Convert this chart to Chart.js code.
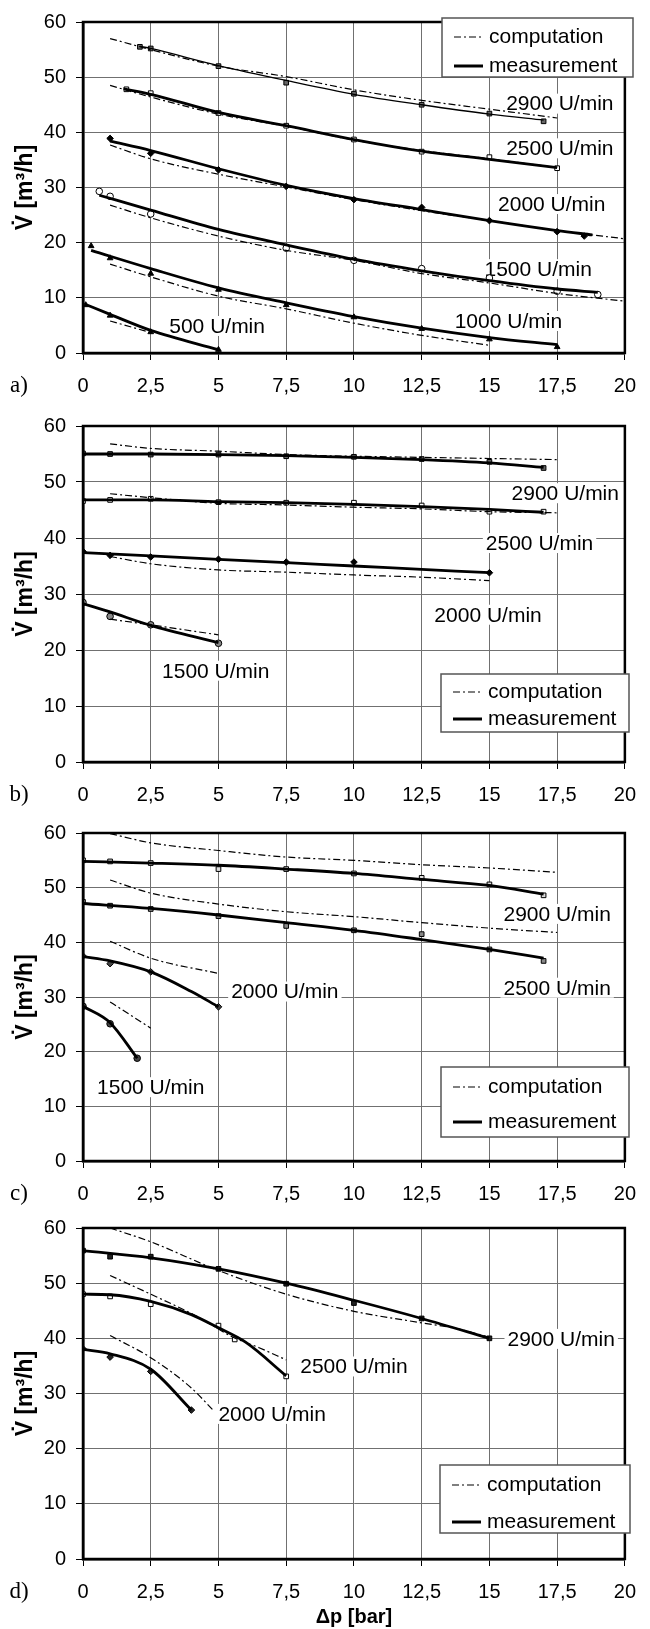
<!DOCTYPE html>
<html><head><meta charset="utf-8">
<script src="https://cdn.jsdelivr.net/npm/chart.js@4.4.1/dist/chart.umd.min.js"></script>
<style>
html,body{margin:0;padding:0;background:#fff;overflow:hidden;}
#wrap{position:relative;width:650px;height:1629px;background:#fff;}
canvas{position:absolute;left:0;}
</style></head><body><div id="wrap">
<canvas id="ca" width="650" height="401" style="top:0px"></canvas>
<canvas id="cb" width="650" height="406" style="top:404px"></canvas>
<canvas id="cc" width="650" height="398" style="top:811px"></canvas>
<canvas id="cd" width="650" height="423" style="top:1206px"></canvas>
</div>
<script>
// ---------- tick labels / texts ----------
const xTickValues = [0,2.5,5,7.5,10,12.5,15,17.5,20];
const xTickLabels = ['0','2,5','5','7,5','10','12,5','15','17,5','20'];
const yTickValues = [0,10,20,30,40,50,60];
const yTickLabels = ['0','10','20','30','40','50','60'];
const legendLabels = ['computation','measurement'];
const yTitle = 'V\u0307 [m\u00B3/h]';
const xTitle = '\u0394p [bar]';
const panelLetters = ['a)','b)','c)','d)'];
const speedsA = ['2900 U/min','2500 U/min','2000 U/min','1500 U/min','1000 U/min','500 U/min'];
const speedsB = ['2900 U/min','2500 U/min','2000 U/min','1500 U/min'];

// ---------- panel a) data [Δp, V] ----------
const aPts2900 = [[2.1,55.5],[2.5,55.2],[5,52.0],[7.5,49.0],[10,47.0],[12.5,45.0],[15,43.4],[17,42.0]];
const aFit2900 = [[2.1,55.6],[2.5,55.2],[5,52.1],[7.5,49.4],[10,46.9],[12.5,45.0],[15,43.3],[17,42.2]];
const aCalc2900 = [[1,57.0],[2.5,55.0],[5,52.0],[7.5,50.1],[10,47.7],[12.5,45.8],[15,44.2],[17.5,42.6]];
const aPts2500 = [[1.6,47.8],[2.5,47.1],[5,43.5],[7.5,41.2],[10,38.7],[12.5,36.5],[15,35.5],[17.5,33.5]];
const aFit2500 = [[1.5,47.9],[2.5,46.9],[5,43.6],[7.5,41.2],[10,38.7],[12.5,36.6],[15,35.1],[17.5,33.6]];
const aCalc2500 = [[1,48.5],[2.5,46.4],[5,43.3],[7.5,41.1],[10,38.6],[12.5,36.7],[15,35.2],[17.5,33.6]];
const aPts2000 = [[1,38.9],[2.5,36.2],[5,33.2],[7.5,30.2],[10,27.8],[12.5,26.4],[15,24.0],[17.5,22.0],[18.5,21.2]];
const aFit2000 = [[1,38.4],[2.5,36.7],[5,33.4],[7.5,30.4],[10,28.0],[12.5,26.0],[15,24.0],[17.5,22.2],[18.8,21.4]];
const aCalc2000 = [[1,37.7],[2.5,35.2],[5,32.4],[7.5,30.1],[10,27.8],[12.5,25.8],[15,24.0],[17.5,22.2],[20,20.7]];
const aPts1500 = [[0.6,29.3],[1,28.4],[2.5,25.2],[7.5,19.0],[10,16.8],[12.5,15.3],[15,13.6],[17.5,11.2],[19,10.6]];
const aFit1500 = [[0.6,28.6],[2.5,25.9],[5,22.4],[7.5,19.6],[10,17.0],[12.5,14.9],[15,13.1],[17.5,11.6],[19,11.0]];
const aCalc1500 = [[1,26.8],[2.5,24.5],[5,21.2],[7.5,18.6],[10,16.8],[12.5,14.4],[15,12.7],[17.5,10.8],[20,9.4]];
const aPts1000 = [[0.3,19.4],[1,17.2],[2.5,14.4],[5,11.5],[7.5,8.7],[10,6.5],[12.5,4.4],[15,2.5],[17.5,1.1]];
const aFit1000 = [[0.3,18.6],[2.5,15.3],[5,11.8],[7.5,9.1],[10,6.6],[12.5,4.5],[15,2.8],[17.5,1.5]];
const aCalc1000 = [[1,16.1],[2.5,13.8],[5,10.3],[7.5,8.0],[10,5.4],[12.5,3.2],[15,1.4]];
const aPts500 = [[0.1,8.7],[1,6.8],[2.5,3.8],[5,0.6]];
const aFit500 = [[0.1,8.8],[1,7.0],[2.5,4.1],[5,0.6]];
const aCalc500 = [[1,5.8],[2.5,3.7]];

// ---------- panel b) ----------
const bPts2900 = [[0,55.1],[1,55.0],[2.5,54.9],[5,54.9],[7.5,54.6],[10,54.5],[12.5,54.1],[15,53.6],[17,52.5]];
const bFit2900 = [[0,55.0],[2.5,55.0],[5,54.9],[7.5,54.7],[10,54.4],[12.5,54.0],[15,53.4],[17,52.6]];
const bCalc2900 = [[1,56.8],[2.5,56.0],[5,55.5],[7.5,54.9],[10,54.6],[12.5,54.4],[15,54.2],[17.5,54.0]];
const bPts2500 = [[0,46.6],[1,46.8],[2.5,47.0],[5,46.4],[7.5,46.3],[10,46.3],[12.5,45.8],[15,44.7],[17,44.7]];
const bFit2500 = [[0,46.8],[2.5,46.8],[5,46.5],[7.5,46.3],[10,46.0],[12.5,45.6],[15,45.1],[17,44.6]];
const bCalc2500 = [[1,47.9],[2.5,47.2],[5,46.2],[7.5,45.9],[10,45.5],[12.5,45.2],[15,44.7],[17.5,44.5]];
const bPts2000 = [[0,37.6],[1,36.9],[2.5,36.6],[5,36.2],[7.5,35.7],[10,35.7],[15,33.8]];
const bFit2000 = [[0,37.4],[2.5,36.8],[5,36.2],[7.5,35.6],[10,35.0],[12.5,34.4],[15,33.8]];
const bCalc2000 = [[1,36.7],[2.5,35.4],[5,34.3],[7.5,33.9],[10,33.4],[12.5,33.0],[15,32.4]];
const bPts1500 = [[0,28.5],[1,26.0],[2.5,24.5],[5,21.2]];
const bFit1500 = [[0,28.3],[1,26.8],[2.5,24.4],[5,21.3]];
const bCalc1500 = [[1,25.5],[2.2,24.7],[2.5,24.5],[5,22.7]];

// ---------- panel c) ----------
const cPts2900 = [[0,55.0],[1,54.8],[2.5,54.5],[5,53.4],[7.5,53.4],[10,52.6],[12.5,51.8],[15,50.6],[17,48.6]];
const cFit2900 = [[0,54.8],[2.5,54.5],[5,54.1],[7.5,53.4],[10,52.6],[12.5,51.5],[15,50.4],[17,48.8]];
const cCalc2900 = [[1,59.9],[2.5,58.2],[5,56.8],[7.5,55.6],[10,55.0],[12.5,54.2],[15,53.6],[17.5,52.8]];
const cPts2500 = [[0,47.4],[1,46.7],[2.5,46.1],[5,44.8],[7.5,43.0],[10,42.2],[12.5,41.5],[15,38.7],[17,36.6]];
const cFit2500 = [[0,47.1],[2.5,46.2],[5,45.0],[7.5,43.6],[10,42.2],[12.5,40.5],[15,38.7],[17,37.1]];
const cCalc2500 = [[1,51.4],[2.5,49.0],[5,47.0],[7.5,45.6],[10,44.7],[12.5,43.6],[15,42.6],[17.5,41.8]];
const cPts2000 = [[0,37.5],[1,36.1],[2.5,34.6],[5,28.2]];
const cFit2000 = [[0,37.4],[1,36.6],[2.5,34.6],[4,31.0],[5,28.2]];
const cCalc2000 = [[1,40.2],[2.5,37.1],[5,34.3]];
const cPts1500 = [[0,28.3],[1,25.1],[2,18.8]];
const cFit1500 = [[0,28.3],[1,25.3],[2,18.8]];
const cCalc1500 = [[1,29.1],[2.5,24.3]];

// ---------- panel d) ----------
const dPts2900 = [[0,55.9],[1,54.8],[2.5,54.8],[5,52.6],[7.5,49.9],[10,46.4],[12.5,43.6],[15,40.0]];
const dFit2900 = [[0,55.9],[2.5,54.6],[5,52.6],[7.5,50.0],[10,46.9],[12.5,43.6],[15,40.0]];
const dCalc2900 = [[1,60.0],[2.5,57.5],[5,52.3],[7.5,48.0],[10,44.9],[12.5,42.8],[13.75,41.8],[15,40.2]];
const dPts2500 = [[0,48.0],[1,47.6],[2.5,46.2],[5,42.3],[5.6,39.8],[7.5,33.1]];
const dFit2500 = [[0,48.0],[1,47.9],[2.5,46.7],[4,44.3],[5,41.9],[6,39.3],[7.5,33.2]];
const dCalc2500 = [[1,51.4],[2.5,48.0],[4.2,44.0],[5.5,40.3],[6.5,38.3],[7.5,36.1]];
const dPts2000 = [[0,38.1],[1,36.6],[2.5,34.0],[4,27.0]];
const dFit2000 = [[0,38.0],[1,37.2],[2.5,34.4],[4,27.0]];
const dCalc2000 = [[1,40.5],[2.5,36.5],[4,31.0],[4.8,27.0]];

// ---------- build ----------
const FONT = "'Liberation Sans', Arial, sans-serif";
const toXY = pts => pts.map(p => ({x:p[0], y:p[1]}));
function fitDS(pts, w){ return {data:toXY(pts), showLine:true, borderColor:'#000', borderWidth:w, pointRadius:0, cubicInterpolationMode:'monotone', fill:false}; }
function calcDS(pts){ return {data:toXY(pts), showLine:true, borderColor:'#000', borderWidth:1.2, borderDash:[7,3,2,3], pointRadius:0, cubicInterpolationMode:'monotone', fill:false}; }
function ptsDS(pts, style, fill){ return {data:toXY(pts), showLine:false, pointStyle:style, pointRadius:3.3, pointBackgroundColor:fill, pointBorderColor:'#000', pointBorderWidth:1}; }

function series(list){
  const out=[];
  list.forEach(s=>{ out.push(calcDS(s.calc)); out.push(fitDS(s.fit, s.w||2.8)); out.push(ptsDS(s.pts, s.style, s.fill)); });
  return out;
}

const panels = [
 {id:'ca', axisH:48, letter:panelLetters[0], xTitle:false,
  legend:{x:442,y:18,w:191,h:59,r1:37,r2:66},
  data:series([
   {pts:aPts2900,fit:aFit2900,calc:aCalc2900,style:'rect',fill:'#666',w:1.3},
   {pts:aPts2500,fit:aFit2500,calc:aCalc2500,style:'rect',fill:'#fff'},
   {pts:aPts2000,fit:aFit2000,calc:aCalc2000,style:'rectRot',fill:'#000'},
   {pts:aPts1500,fit:aFit1500,calc:aCalc1500,style:'circle',fill:'#fff'},
   {pts:aPts1000,fit:aFit1000,calc:aCalc1000,style:'triangle',fill:'#000'},
   {pts:aPts500,fit:aFit500,calc:aCalc500,style:'triangle',fill:'#000'}]),
  labels:[{t:speedsA[0],x:17.6,y:45.2},{t:speedsA[1],x:17.6,y:37.1},{t:speedsA[2],x:17.3,y:27.0},
          {t:speedsA[3],x:16.8,y:15.2},{t:speedsA[4],x:15.7,y:5.8},{t:speedsA[5],x:4.95,y:4.9}]},
 {id:'cb', axisH:48, letter:panelLetters[1], xTitle:false,
  legend:{x:441,y:270,w:188,h:58,r1:288,r2:315},
  data:series([
   {pts:bPts2900,fit:bFit2900,calc:bCalc2900,style:'rect',fill:'#666'},
   {pts:bPts2500,fit:bFit2500,calc:bCalc2500,style:'rect',fill:'#fff'},
   {pts:bPts2000,fit:bFit2000,calc:bCalc2000,style:'rectRot',fill:'#000'},
   {pts:bPts1500,fit:bFit1500,calc:bCalc1500,style:'circle',fill:'#888'}]),
  labels:[{t:speedsB[0],x:17.8,y:48.0},{t:speedsB[1],x:16.85,y:39.1},{t:speedsB[2],x:14.95,y:26.3},{t:speedsB[3],x:4.9,y:16.3}]},
 {id:'cc', axisH:48, letter:panelLetters[2], xTitle:false,
  legend:{x:441,y:256,w:188,h:70,r1:276,r2:311},
  data:series([
   {pts:cPts2900,fit:cFit2900,calc:cCalc2900,style:'rect',fill:'#ddd'},
   {pts:cPts2500,fit:cFit2500,calc:cCalc2500,style:'rect',fill:'#888'},
   {pts:cPts2000,fit:cFit2000,calc:cCalc2000,style:'rectRot',fill:'#444'},
   {pts:cPts1500,fit:cFit1500,calc:cCalc1500,style:'circle',fill:'#444'}]),
  labels:[{t:speedsB[0],x:17.5,y:45.2},{t:speedsB[1],x:17.5,y:31.7},{t:speedsB[2],x:7.45,y:31.0},{t:speedsB[3],x:2.5,y:13.5}]},
 {id:'cd', axisH:70, letter:panelLetters[3], xTitle:true,
  legend:{x:440,y:259,w:190,h:68,r1:279,r2:316},
  data:series([
   {pts:dPts2900,fit:dFit2900,calc:dCalc2900,style:'rect',fill:'#222'},
   {pts:dPts2500,fit:dFit2500,calc:dCalc2500,style:'rect',fill:'#fff'},
   {pts:dPts2000,fit:dFit2000,calc:dCalc2000,style:'rectRot',fill:'#222'}]),
  labels:[{t:speedsB[0],x:17.65,y:39.9},{t:speedsB[1],x:10.0,y:34.9},{t:speedsB[2],x:6.98,y:26.3}]}
];

const decor = {
  id:'decor',
  beforeDatasetsDraw(chart, args, o){
    const {ctx, scales:{x,y}} = chart;
    ctx.save();
    ctx.font = '21px ' + FONT;
    ctx.textAlign='center'; ctx.textBaseline='middle';
    (o.labels||[]).forEach(l=>{
      const px=x.getPixelForValue(l.x), py=y.getPixelForValue(l.y);
      const w=ctx.measureText(l.t).width;
      ctx.fillStyle='#fff'; ctx.fillRect(px-w/2-3, py-10, w+6, 20);
      ctx.fillStyle='#000'; ctx.fillText(l.t, px, py+1);
    });
    ctx.restore();
  },
  afterDraw(chart, args, o){
    const {ctx, chartArea:ca} = chart;
    ctx.save();
    ctx.strokeStyle='#000'; ctx.lineWidth=2.5; ctx.setLineDash([]);
    ctx.strokeRect(ca.left, ca.top, ca.right-ca.left, ca.bottom-ca.top);
    const L=o.legend;
    ctx.fillStyle='#fff'; ctx.fillRect(L.x,L.y,L.w,L.h);
    ctx.strokeStyle='#555'; ctx.lineWidth=1.5; ctx.strokeRect(L.x,L.y,L.w,L.h);
    const sx0=L.x+12, sx1=L.x+41;
    ctx.strokeStyle='#000';
    ctx.lineWidth=1.2; ctx.setLineDash([7,3,2,3]);
    ctx.beginPath(); ctx.moveTo(sx0,L.r1); ctx.lineTo(sx1,L.r1); ctx.stroke();
    ctx.lineWidth=3; ctx.setLineDash([]);
    ctx.beginPath(); ctx.moveTo(sx0,L.r2); ctx.lineTo(sx1,L.r2); ctx.stroke();
    ctx.fillStyle='#000'; ctx.font='21px '+FONT; ctx.textAlign='left'; ctx.textBaseline='middle';
    ctx.fillText(legendLabels[0], L.x+47, L.r1);
    ctx.fillText(legendLabels[1], L.x+47, L.r2);
    ctx.font="23px 'Liberation Serif', 'DejaVu Serif', serif"; ctx.textAlign='center';
    ctx.fillText(o.letter, 19, ca.bottom+33);
    ctx.restore();
  }
};

panels.forEach(p=>{
  new Chart(document.getElementById(p.id), {
    type:'scatter',
    data:{datasets:p.data},
    plugins:[decor],
    options:{
      responsive:false, animation:false, events:[],
      layout:{padding:{top:13,right:14,left:0,bottom:0}},
      plugins:{legend:{display:false}, tooltip:{enabled:false},
        decor:{labels:p.labels, legend:p.legend, letter:p.letter}},
      scales:{
        x:{type:'linear', min:0, max:20,
           afterBuildTicks:ax=>{ ax.ticks = xTickValues.map(v=>({value:v})); },
           afterFit:ax=>{ ax.height = p.axisH; },
           ticks:{callback:(v,i)=>xTickLabels[i], color:'#000', font:{family:FONT,size:20}, padding:14, maxRotation:0, autoSkip:false},
           grid:{color:'#707070', lineWidth:1, tickLength:7, tickColor:'#000'},
           border:{display:true,color:'#000',width:2.5},
           title:{display:p.xTitle, text:xTitle, color:'#000', font:{family:FONT,size:20,weight:'bold'}, padding:{top:0,bottom:0}}},
        y:{type:'linear', min:0, max:60,
           afterBuildTicks:ax=>{ ax.ticks = yTickValues.map(v=>({value:v})); },
           afterFit:ax=>{ ax.width = 83; },
           ticks:{callback:(v,i)=>yTickLabels[i], color:'#000', font:{family:FONT,size:20}, padding:10},
           grid:{color:'#707070', lineWidth:1, tickLength:7, tickColor:'#000'},
           border:{display:true,color:'#000',width:2.5},
           title:{display:true, text:yTitle, color:'#000', font:{family:FONT,size:23,weight:'bold'}, padding:{top:12,bottom:0}}}
      }
    }
  });
});
</script></body></html>
